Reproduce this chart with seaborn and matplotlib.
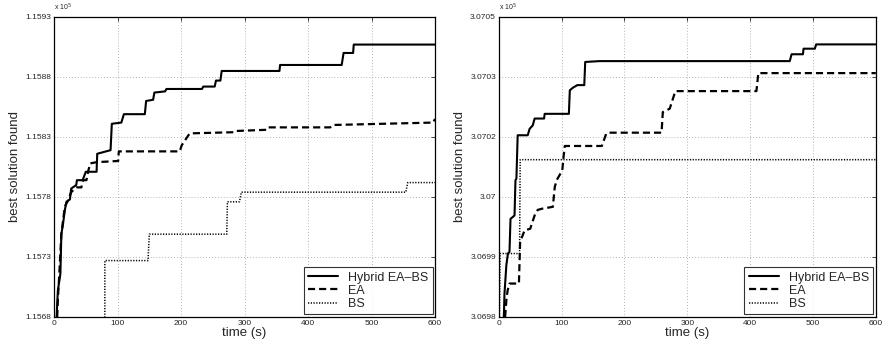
import numpy as np
import pandas as pd
import matplotlib
matplotlib.use("Agg")
import matplotlib.pyplot as plt
import seaborn as sns

# ---- data: left run (objective values) ----
t_hyb_1 = [4, 6, 10, 11.5, 14, 17, 19.5, 25, 27, 35, 36, 45, 50, 67, 68, 82, 89, 91, 106, 110,
           143, 145, 156, 158, 175, 177, 233, 235, 253, 255, 262, 264, 355, 356, 453, 456, 471, 472, 600]
v_hyb_1 = [115680, 115702, 115716, 115749, 115757, 115769, 115776, 115778, 115787, 115790,
           115794, 115794, 115801, 115801, 115816, 115818, 115819, 115841, 115842, 115849,
           115849, 115860, 115861, 115867, 115868, 115870, 115870, 115872, 115872, 115877,
           115877, 115885, 115885, 115890, 115890, 115900, 115900, 115907, 115907]

t_ea_1 = [5, 6, 8, 11.5, 17, 22, 27, 35, 43, 46, 51, 54, 57, 67, 101, 102, 198, 201, 211, 214,
          285, 287, 335, 337, 435, 440, 597, 600]
v_ea_1 = [115680, 115694, 115713, 115749, 115772, 115777, 115784, 115788, 115788, 115794,
          115794, 115802, 115808, 115809, 115810, 115818, 115818, 115823, 115831, 115833,
          115834, 115835, 115836, 115838, 115838, 115840, 115842, 115845]

t_bs_1 = [80, 80, 148, 150, 272, 273, 292, 295, 554, 557, 600]
v_bs_1 = [115675, 115727, 115727, 115749, 115749, 115776, 115776, 115784, 115784, 115792, 115792]

# ---- data: right run ----
t_hyb_2 = [8, 9, 12, 14.5, 17, 18.6, 22, 25, 26.5, 28, 30, 46, 49, 54, 57, 72, 73, 111.5, 113, 118,
           125, 136, 137.5, 160, 463, 466, 484, 485, 503, 505, 600]
v_hyb_2 = [306980.0, 306985.4, 306992.1, 306994.8, 306995.2, 307002.9, 307003.3, 307003.7,
           307011.9, 307012.3, 307022.4, 307022.4, 307023.9, 307024.7, 307026.3, 307026.3,
           307027.4, 307027.4, 307032.9, 307033.5, 307034.1, 307034.1, 307039.5, 307039.7,
           307039.7, 307041.3, 307041.3, 307042.6, 307042.6, 307043.6, 307043.6]

t_ea_2 = [10, 12, 14, 17, 32, 34, 37, 41, 50, 57, 62, 70, 86, 89, 92, 101, 103, 105, 164, 171,
          176, 259, 261, 272, 281, 410, 413, 600]
v_ea_2 = [306980.0, 306983.9, 306986.2, 306987.8, 306987.8, 306997.9, 306998.7, 307000.2,
          307000.6, 307003.7, 307005.0, 307005.3, 307005.7, 307010.3, 307011.9, 307014.2,
          307017.3, 307019.9, 307019.9, 307022.8, 307023.0, 307023.0, 307027.8, 307028.6,
          307032.7, 307032.7, 307036.9, 307036.9]

t_bs_2 = [1, 2, 33, 34, 600]
v_bs_2 = [306980.0, 306994.8, 306994.8, 307016.7, 307016.7]

ylim_1 = (1.1568, 1.1593)
ylabels_1 = ["1.1568", "1.1573", "1.1578", "1.1583", "1.1588", "1.1593"]
ylim_2 = (3.0698, 3.0705)
ylabels_2 = ["3.0698", "3.0699", "3.07", "3.0702", "3.0703", "3.0705"]
xticks = [0, 100, 200, 300, 400, 500, 600]

sns.set_style("white")
plt.rcParams['font.family'] = ['Liberation Sans', 'DejaVu Sans']

fig = plt.figure(figsize=(8.86, 3.47), dpi=100)
ax1 = fig.add_axes([0.061, 0.0865, 0.430, 0.8646])
ax2 = fig.add_axes([0.563, 0.0865, 0.4255, 0.8646])

styles = {
    "Hybrid EA\u2013BS": dict(color="black", lw=1.5, ls="-"),
    "EA": dict(color="black", lw=1.6, ls=(0, (3.2, 1.8))),
    "BS": dict(color="black", lw=1.1, ls=(0, (0.8, 1.0))),
}

panels = [
    (ax1, [(t_hyb_1, v_hyb_1), (t_ea_1, v_ea_1), (t_bs_1, v_bs_1)], ylim_1, ylabels_1),
    (ax2, [(t_hyb_2, v_hyb_2), (t_ea_2, v_ea_2), (t_bs_2, v_bs_2)], ylim_2, ylabels_2),
]

for ax, series, ylim, ylabels in panels:
    for (name, st), (t, v) in zip(styles.items(), series):
        df = pd.DataFrame({"t": t, "v": np.array(v) / 1e5})
        sns.lineplot(data=df, x="t", y="v", estimator=None, sort=False, ax=ax,
                     color=st["color"], linewidth=st["lw"], linestyle=st["ls"], label=name)
    ax.set_xlim(0, 600)
    ax.set_ylim(*ylim)
    ax.set_xticks(xticks)
    ax.set_xticklabels([str(x) for x in xticks])
    yt = np.linspace(ylim[0], ylim[1], 6)
    ax.set_yticks(yt)
    ax.set_yticklabels(ylabels)
    ax.tick_params(direction="in", length=3, width=0.6, labelsize=6, pad=2,
                   top=True, right=True)
    ax.grid(True, color="#999999", lw=0.6, ls=(0, (1, 2.5)))
    for s in ax.spines.values():
        s.set_color("black")
        s.set_linewidth(0.9)
    ax.set_xlabel("time (s)", fontsize=9.5, labelpad=0)
    ax.set_ylabel("best solution found", fontsize=9.5, labelpad=3)
    ax.text(0.0, 1.012, r"x 10$^5$", transform=ax.transAxes, fontsize=5, ha="left", va="bottom")
    leg = ax.legend(loc="lower right", fontsize=9, frameon=True, fancybox=False,
                    borderaxespad=0.2, handlelength=2.4, handletextpad=0.8,
                    labelspacing=0.1, borderpad=0.35)
    leg.get_frame().set_edgecolor("black")
    leg.get_frame().set_linewidth(0.8)

fig.savefig("out.png", dpi=100)
